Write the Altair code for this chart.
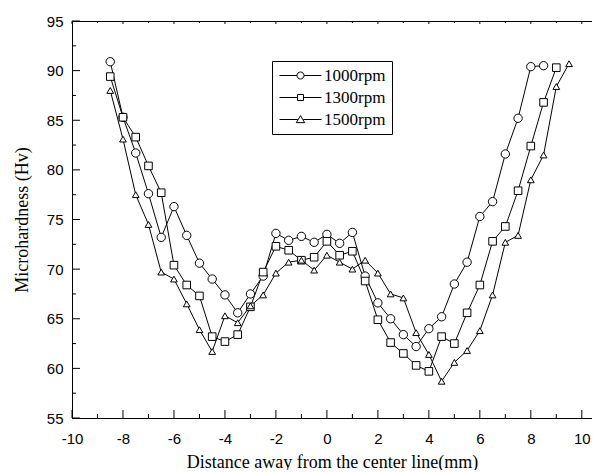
import altair as alt
import pandas as pd

series_names = ["1000rpm", "1300rpm", "1500rpm"]

x_1000 = [-8.5, -8.0, -7.5, -7.0, -6.5, -6.0, -5.5, -5.0, -4.5, -4.0, -3.5, -3.0,
          -2.5, -2.0, -1.5, -1.0, -0.5, 0.0, 0.5, 1.0, 1.5, 2.0, 2.5, 3.0, 3.5,
          4.0, 4.5, 5.0, 5.5, 6.0, 6.5, 7.0, 7.5, 8.0, 8.5]
hv_1000 = [90.9, 85.3, 81.7, 77.6, 73.2, 76.3, 73.4, 70.6, 69.0, 67.4, 65.6, 67.5,
           69.3, 73.6, 72.9, 73.3, 72.7, 73.5, 72.6, 73.7, 69.3, 66.6, 65.0, 63.4, 62.2,
           64.0, 65.2, 68.5, 70.7, 75.3, 76.8, 81.6, 85.2, 90.4, 90.5]

x_1300 = [-8.5, -8.0, -7.5, -7.0, -6.5, -6.0, -5.5, -5.0, -4.5, -4.0, -3.5, -3.0,
          -2.5, -2.0, -1.5, -1.0, -0.5, 0.0, 0.5, 1.0, 1.5, 2.0, 2.5, 3.0, 3.5,
          4.0, 4.5, 5.0, 5.5, 6.0, 6.5, 7.0, 7.5, 8.0, 8.5, 9.0]
hv_1300 = [89.4, 85.3, 83.3, 80.4, 77.7, 70.4, 68.4, 67.3, 63.2, 62.7, 63.4, 66.2,
           69.7, 72.3, 71.9, 70.9, 71.2, 72.8, 71.4, 71.8, 68.8, 64.9, 62.6, 61.5, 60.3,
           59.7, 63.2, 62.5, 65.6, 68.4, 72.8, 74.3, 77.9, 82.4, 86.8, 90.3]

x_1500 = [-8.5, -8.0, -7.5, -7.0, -6.5, -6.0, -5.5, -5.0, -4.5, -4.0, -3.5, -3.0,
          -2.5, -2.0, -1.5, -1.0, -0.5, 0.0, 0.5, 1.0, 1.5, 2.0, 2.5, 3.0, 3.5,
          4.0, 4.5, 5.0, 5.5, 6.0, 6.5, 7.0, 7.5, 8.0, 8.5, 9.0, 9.5]
hv_1500 = [88.0, 83.1, 77.5, 74.5, 69.7, 69.0, 66.5, 63.9, 61.7, 65.3, 64.6, 66.3,
           67.4, 69.6, 70.7, 70.9, 69.9, 71.4, 70.7, 70.0, 70.9, 69.6, 67.5, 67.1, 63.6,
           61.4, 58.7, 60.6, 61.8, 63.8, 67.4, 72.7, 73.4, 79.0, 81.5, 88.4, 90.7]

x_major_ticks = [-10, -8, -6, -4, -2, 0, 2, 4, 6, 8, 10]
x_minor_ticks = [-9, -7, -5, -3, -1, 1, 3, 5, 7, 9]
y_major_ticks = [55, 60, 65, 70, 75, 80, 85, 90, 95]
y_minor_ticks = [57.5, 62.5, 67.5, 72.5, 77.5, 82.5, 87.5, 92.5]

x_domain = [-10, 10.4]
y_domain = [55, 95]

W, H = 520, 397

rows = []
for name, xs_, ys_ in zip(series_names, [x_1000, x_1300, x_1500], [hv_1000, hv_1300, hv_1500]):
    for a, b in zip(xs_, ys_):
        rows.append({"series": name, "x": a, "hv": b})
df = pd.DataFrame(rows)

SANS = "Liberation Sans"
SERIF = "Liberation Serif"

xscale = alt.Scale(domain=x_domain, nice=False, zero=False)
yscale = alt.Scale(domain=y_domain, nice=False, zero=False)

base = alt.Chart(df)

lines = base.mark_line(color="black", strokeWidth=1).encode(
    x=alt.X("x:Q", scale=xscale, title="Distance away from the center line(mm)",
            axis=alt.Axis(orient="bottom", values=x_major_ticks, ticks=False, tickSize=0,
                          labelPadding=13, labelFont=SANS, labelFontSize=15, labelColor="black",
                          labelFlush=False, domainColor="black", domainWidth=1, grid=False,
                          titleFont=SERIF, titleFontSize=18, titleFontWeight="normal",
                          titleColor="black", titlePadding=7, labelExpr="'' + datum.value")),
    y=alt.Y("hv:Q", scale=yscale, title="Microhardness (Hv)",
            axis=alt.Axis(orient="left", values=y_major_ticks, ticks=False, tickSize=0,
                          labelPadding=9, labelFont=SANS, labelFontSize=15, labelColor="black",
                          labelFlush=False, domainColor="black", domainWidth=1, grid=False,
                          titleFont=SERIF, titleFontSize=18, titleFontWeight="normal",
                          titleColor="black", titlePadding=15, labelExpr="'' + datum.value")),
    detail="series:N",
)

top_border = base.mark_line(opacity=0).encode(
    x=alt.X("x:Q", scale=xscale, title="",
            axis=alt.Axis(orient="top", ticks=False, labels=False, domain=True, grid=False,
                          domainColor="black", domainWidth=1)),
    y=alt.Y("hv:Q", scale=yscale, axis=None),
    detail="series:N",
)


def x_tick_rules(values, y_from, y_to):
    return alt.Chart(pd.DataFrame({"t": values})).mark_rule(color="black", strokeWidth=1).encode(
        x=alt.X("t:Q", scale=xscale, axis=None),
        y=alt.value(y_from), y2=alt.value(y_to),
    )


def y_tick_rules(values, length):
    return alt.Chart(pd.DataFrame({"t": values})).mark_rule(color="black", strokeWidth=1).encode(
        y=alt.Y("t:Q", scale=yscale, axis=None),
        x=alt.value(0), x2=alt.value(length),
    )


tick_layers = [
    x_tick_rules(x_major_ticks, H, H - 8),
    x_tick_rules(x_minor_ticks, H, H - 4),
    x_tick_rules(x_major_ticks, 0, 3),
    x_tick_rules(x_minor_ticks, 0, 2),
    y_tick_rules(y_major_ticks, 8),
    y_tick_rules(y_minor_ticks, 4),
]

points = base.mark_point(filled=True, fill="white", stroke="black", strokeWidth=1, opacity=1).encode(
    x=alt.X("x:Q", scale=xscale, axis=None),
    y=alt.Y("hv:Q", scale=yscale, axis=None),
    shape=alt.Shape("series:N",
                    scale=alt.Scale(domain=series_names, range=["circle", "square", "triangle-up"]),
                    legend=None),
    size=alt.Size("series:N", scale=alt.Scale(domain=series_names, range=[70, 45, 120]), legend=None),
)

# legend-only layer: each symbol is a short line with the marker in the middle
circle_path = "M-3,0H-0.5M0.5,0H3M0.5,0A0.5,0.5,0,1,1,-0.5,0A0.5,0.5,0,1,1,0.5,0Z"
square_path = "M-3,0H-0.43M0.43,0H3M-0.43,-0.43H0.43V0.43H-0.43Z"
triangle_path = "M-3,0H-0.4M0.4,0H3M0,-0.55L0.6,0.45L-0.6,0.45Z"

legend_layer = base.transform_filter("datum.x > 1000").mark_point(
    filled=False, color="black", strokeWidth=1, size=196, opacity=1
).encode(
    x=alt.X("x:Q", scale=xscale, axis=None),
    y=alt.Y("hv:Q", scale=yscale, axis=None),
    shape=alt.Shape("series:N",
                    scale=alt.Scale(domain=series_names,
                                    range=[circle_path, square_path, triangle_path]),
                    legend=alt.Legend(title=None, orient="none", legendX=200, legendY=40,
                                      direction="vertical", labelFont=SERIF, labelFontSize=17,
                                      labelColor="black", strokeColor="black", fillColor="white",
                                      padding=6, rowPadding=4, symbolSize=196, labelOffset=15,
                                      symbolOffset=14, symbolStrokeColor="black",
                                      symbolStrokeWidth=1, symbolOpacity=1)),
)

chart = alt.layer(lines, top_border, *tick_layers, points, legend_layer).resolve_axis(
    x="independent", y="independent"
).resolve_scale(shape="independent").properties(
    width=W, height=H,
    autosize=alt.AutoSizeParams(type="none"),
    padding={"left": 64, "top": 13, "right": 0, "bottom": 52},
).configure_view(stroke=None).configure(background="white")

chart.save("out.html", embed_options={"renderer": "svg", "actions": False})
